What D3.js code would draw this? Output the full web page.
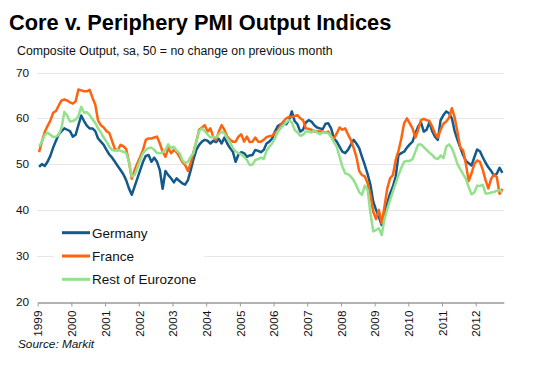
<!DOCTYPE html>
<html>
<head>
<meta charset="utf-8">
<script src="https://cdn.jsdelivr.net/npm/d3@7"></script>
<style>
  body { margin: 0; background: #fff; }
  svg { display: block; font-family: 'Liberation Sans', Arial, sans-serif; }
</style>
</head>
<body>
<svg id="chart" width="551" height="368"></svg>
<script>
// Composite output PMI, monthly, Jan 1999 - Oct 2012
const germany = [
  49.4, 50.0, 49.6, 50.5, 51.8, 53.6, 55.1, 56.5, 57.2, 57.8, 57.5, 57.2,
  56.0, 56.4, 58.5, 60.6, 59.4, 58.4, 57.8, 57.8, 57.2, 55.6, 54.9, 54.2,
  53.1, 52.1, 51.4, 50.5, 49.6, 48.7, 47.8, 46.5, 44.7, 43.3, 45.1, 46.9,
  48.7, 50.5, 51.8, 52.0, 50.5, 51.4, 50.5, 48.7, 44.6, 48.5, 47.6, 46.9,
  46.0, 46.9, 46.3, 45.8, 45.5, 46.5, 48.7, 51.1, 53.1, 54.2, 54.9, 55.3,
  55.1, 54.5, 55.1, 54.8, 55.5, 54.5, 55.8, 54.5, 53.5, 52.7, 50.5, 52.1,
  52.6, 52.4, 51.6, 51.9, 52.0, 53.1, 52.9, 52.6, 53.1, 54.5, 54.9, 55.6,
  57.1, 58.3, 58.7, 58.9, 58.7, 59.6, 61.5, 59.4, 58.7, 57.1, 57.5, 59.1,
  59.6, 59.3, 58.5, 58.0, 57.8, 57.6, 58.8, 58.9, 57.8, 55.6, 54.9, 53.8,
  52.7, 52.4, 53.1, 54.2, 55.3, 54.5, 53.5, 51.6, 49.8, 47.8, 45.5, 41.8,
  40.0, 38.5, 36.7, 38.9, 41.5, 43.6, 45.1, 47.3, 52.0, 52.4, 52.7, 53.6,
  54.3, 54.9, 56.7, 58.2, 59.1, 57.1, 57.5, 59.1, 57.2, 56.0, 55.3, 59.6,
  60.7, 61.5, 61.1, 60.0, 57.2, 55.3, 53.6, 52.0, 50.7, 50.2, 49.7, 51.5,
  53.2, 52.8, 51.5, 50.3, 49.3, 48.5, 47.5, 47.9, 49.2, 48.1
];
const france = [
  52.6, 54.9, 57.0, 58.3, 59.5, 61.2, 61.6, 62.8, 63.9, 64.1, 63.9, 63.5,
  63.2, 63.7, 66.3, 66.1, 65.9, 65.9, 66.2, 64.5, 63.0, 59.5, 58.5, 58.0,
  57.2, 56.8, 55.0, 53.3, 53.0, 54.2, 53.9, 53.3, 50.5, 46.8, 48.7, 50.2,
  51.6, 53.1, 55.3, 55.6, 55.6, 55.8, 56.0, 54.5, 52.7, 51.6, 53.5, 52.4,
  53.1, 52.6, 51.6, 50.5, 49.8, 48.5, 50.2, 52.7, 54.9, 57.5, 58.0, 58.5,
  57.1, 57.8, 56.0, 55.3, 57.1, 58.5, 57.5, 56.0, 55.3, 54.9, 54.9, 56.0,
  56.5, 54.9, 56.0, 54.8, 54.9, 55.8, 54.9, 54.9, 55.3, 55.9, 56.1, 56.2,
  56.9, 57.2, 58.5, 59.3, 60.0, 60.3, 60.3, 60.5, 60.7, 60.0, 59.6, 57.8,
  57.7, 57.5, 57.1, 57.2, 57.1, 57.1, 56.9, 57.1, 56.0, 55.6, 56.7, 58.0,
  57.5, 57.8, 56.5, 55.3, 53.6, 51.6, 48.5, 47.6, 47.3, 45.8, 43.3, 39.6,
  38.0, 40.0, 37.1, 40.7, 44.7, 46.9, 47.6, 50.9, 52.9, 55.6, 58.9, 60.0,
  58.9, 57.8, 55.8, 57.5, 59.6, 59.9, 59.6, 59.4, 58.2, 56.7, 55.8, 57.5,
  58.8, 59.3, 60.1, 62.2, 60.2, 57.0, 53.6, 53.0, 50.0, 46.3, 48.0, 50.0,
  50.8, 50.5, 48.8, 46.5, 44.7, 46.8, 47.7, 47.2, 43.5, 44.6
];
const restOfEurozone = [
  53.8, 54.9, 56.3, 56.9, 56.4, 55.9, 56.0, 56.4, 58.0, 61.4, 60.6, 59.3,
  59.4, 59.7, 60.5, 62.5, 61.2, 61.3, 60.7, 59.8, 59.0, 57.8, 56.9, 55.8,
  54.9, 53.8, 53.1, 52.9, 53.2, 52.9, 52.7, 52.4, 50.5, 47.3, 47.6, 49.2,
  50.9, 52.4, 53.1, 53.5, 53.6, 53.1, 52.4, 52.4, 52.6, 53.1, 54.3, 53.5,
  53.8, 52.9, 52.4, 50.9, 50.2, 50.5, 51.6, 52.4, 54.9, 57.2, 57.8, 57.2,
  56.5, 55.8, 56.0, 55.8, 56.5, 57.1, 56.7, 55.6, 54.8, 53.5, 52.7, 52.4,
  52.1, 51.6, 50.9, 49.8, 49.9, 50.9, 51.1, 51.4, 51.1, 52.9, 53.8, 54.5,
  55.6, 57.1, 57.8, 58.5, 59.1, 59.6, 59.1, 57.5, 56.9, 56.2, 56.4, 57.1,
  57.1, 56.9, 57.4, 56.9, 56.5, 56.9, 56.9, 56.7, 56.0, 54.8, 53.8, 51.6,
  49.5, 48.0, 47.8, 47.3, 46.5, 45.3, 43.9, 43.3, 45.3, 44.4, 39.3, 35.3,
  35.6, 36.0, 34.5, 38.0, 40.2, 42.2, 44.0, 45.8, 47.6, 49.2, 50.5, 50.7,
  50.7, 51.1, 52.7, 54.3, 54.3, 53.7, 53.1, 52.5, 52.0, 51.3, 51.1, 51.9,
  51.3, 53.8, 54.3, 53.5, 51.9, 50.0, 48.9, 47.8, 46.8, 45.0, 43.4, 43.8,
  45.3, 45.2, 45.5, 43.6, 43.6, 43.8, 43.9, 44.2, 44.3, 43.8
];
const tickYears = ['1999', '2000', '2001', '2002', '2003', '2004', '2005',
  '2006', '2007', '2008', '2009', '2010', '2011', '2012'];
const yTicks = [20, 30, 40, 50, 60, 70];
const seriesNames = ['Germany', 'France', 'Rest of Eurozone'];

const drawChart = function () {
  const svg = d3.select('#chart');
  const colors = ['#135a8c', '#fe6410', '#93e08d'];
  const series = [germany, france, restOfEurozone];

  // Escalas: cada mes es una categoria, los ticks caen entre diciembre y enero
  const x = d3.scaleLinear().domain([0, germany.length]).range([37.7, 503.8]);
  const y = d3.scaleLinear().domain([20, 70]).range([301.5, 72.5]);

  // Titulos
  svg.append('text')
    .attr('x', 9).attr('y', 30)
    .attr('font-size', 21.8).attr('font-weight', 'bold')
    .attr('fill', '#000')
    .text('Core v. Periphery PMI Output Indices');
  svg.append('text')
    .attr('x', 17).attr('y', 55)
    .attr('font-size', 12.3).attr('fill', '#111')
    .text('Composite Output, sa, 50 = no change on previous month');

  // Lineas de cuadricula
  svg.append('g')
    .selectAll('line')
    .data(yTicks.slice(1))
    .enter()
    .append('line')
    .attr('x1', 37).attr('x2', 504)
    .attr('y1', (d) => Math.round(y(d)) + 0.5)
    .attr('y2', (d) => Math.round(y(d)) + 0.5)
    .attr('stroke', '#e6e6e6');

  // Etiquetas del eje Y
  svg.append('g')
    .selectAll('text')
    .data(yTicks)
    .enter()
    .append('text')
    .attr('x', 29)
    .attr('y', (d) => y(d))
    .attr('dy', '0.35em')
    .attr('text-anchor', 'end')
    .attr('font-size', 11.8)
    .attr('fill', '#111')
    .text((d) => d);

  // Eje X con los años girados
  const xAxis = d3.axisBottom(x)
    .tickValues(tickYears.map((d, i) => i * 12))
    .tickFormat((d, i) => tickYears[i])
    .tickSize(4)
    .tickSizeOuter(0);
  const gx = svg.append('g')
    .attr('transform', `translate(0,${Math.round(y(20)) + 0.5})`)
    .call(xAxis);
  gx.select('.domain').attr('stroke', '#9a9a9a').attr('stroke-width', 1.5);
  gx.selectAll('.tick line').attr('stroke', '#9a9a9a');
  gx.selectAll('.tick text')
    .attr('transform', 'rotate(-90)')
    .attr('text-anchor', 'end')
    .attr('x', -8).attr('y', 0)
    .attr('dy', '0.36em')
    .attr('font-size', 11.8)
    .attr('font-family', "'Liberation Sans', Arial, sans-serif")
    .attr('fill', '#111');

  // Series (cada punto en el centro de su mes)
  const line = d3.line()
    .x((d, i) => x(i + 0.5))
    .y((d) => y(d));
  svg.append('g')
    .selectAll('path')
    .data(series)
    .enter()
    .append('path')
    .attr('d', line)
    .attr('fill', 'none')
    .attr('stroke', (d, i) => colors[i])
    .attr('stroke-width', 2.5)
    .attr('stroke-linejoin', 'round');

  // Leyenda con fondo blanco
  const legend = svg.append('g');
  legend.append('rect')
    .attr('x', 54).attr('y', 219)
    .attr('width', 150).attr('height', 74)
    .attr('fill', '#fff');
  const item = legend.selectAll('.item')
    .data(seriesNames)
    .enter()
    .append('g')
    .attr('class', 'item')
    .attr('transform', (d, i) => `translate(0,${232.7 + i * 23.3})`);
  item.append('line')
    .attr('x1', 62).attr('x2', 90)
    .attr('stroke', (d, i) => colors[i])
    .attr('stroke-width', 3);
  item.append('text')
    .attr('x', 92)
    .attr('dy', '0.36em')
    .attr('font-size', 13.5)
    .attr('fill', '#111')
    .text((d) => d);

  // Fuente
  svg.append('text')
    .attr('x', 18).attr('y', 348)
    .attr('font-size', 11.8).attr('font-style', 'italic')
    .attr('fill', '#111')
    .text('Source: Markit');
};

drawChart();
</script>
</body>
</html>
